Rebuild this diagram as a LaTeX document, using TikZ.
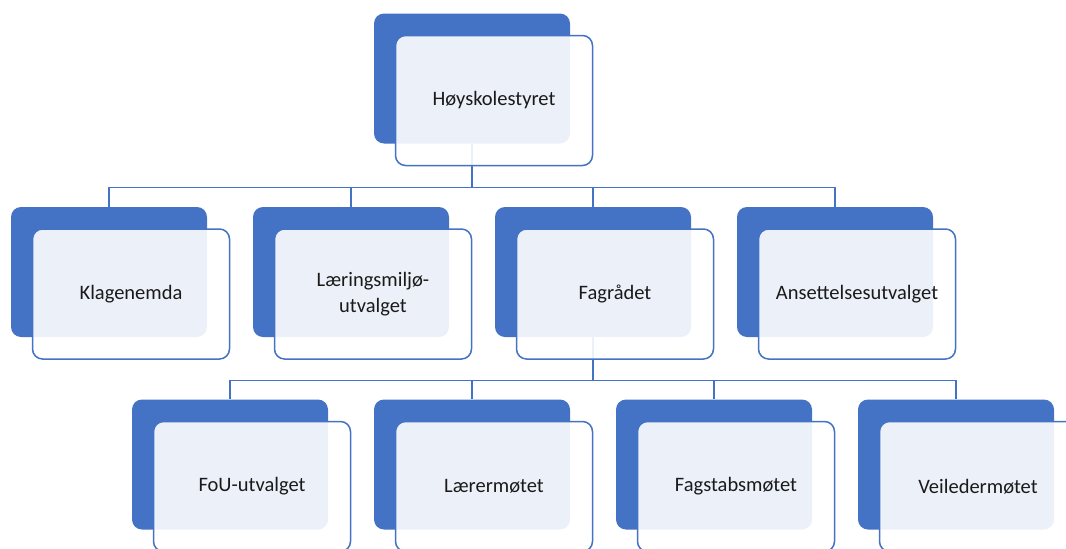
\documentclass[tikz,border=0pt]{standalone}
\usepackage{fontspec}
\setmainfont{Carlito}
\definecolor{accent}{HTML}{4472C4}
\definecolor{txt}{HTML}{1A1A1A}
\tikzset{
  backbox/.style={rectangle, rounded corners=10pt, fill=accent, draw=none,
    minimum width=196pt, minimum height=130pt, inner sep=0pt},
  frontbox/.style={rectangle, rounded corners=10pt, fill=white, fill opacity=0.9,
    text opacity=1, draw=accent, line width=1.5pt,
    minimum width=197pt, minimum height=130pt, inner sep=0pt,
    text=txt, align=center, font=\fontsize{20.5}{26}\selectfont},
  conn/.style={draw=accent, line width=1.3pt}
}
\begin{document}
\begin{tikzpicture}[x=1pt,y=-1pt]
\useasboundingbox (0,0) rectangle (1066,549);
% back boxes
\node[backbox] (b0) at (472,78.5) {};
\node[backbox] (b1) at (109,272) {};
\node[backbox] (b2) at (351,272) {};
\node[backbox] (b3) at (593,272) {};
\node[backbox] (b4) at (835,272) {};
\node[backbox] (b5) at (230,464.5) {};
\node[backbox] (b6) at (472,464.5) {};
\node[backbox] (b7) at (714,464.5) {};
\node[backbox] (b8) at (956,464.5) {};
% connectors
\draw[conn] (b0.south) -- ++(0,44) -| (b1.north);
\draw[conn] (b0.south) -- ++(0,44) -| (b2.north);
\draw[conn] (b0.south) -- ++(0,44) -| (b3.north);
\draw[conn] (b0.south) -- ++(0,44) -| (b4.north);
\draw[conn] (b3.south) -- ++(0,43) -| (b5.north);
\draw[conn] (b3.south) -- ++(0,43) -| (b6.north);
\draw[conn] (b3.south) -- ++(0,43) -| (b7.north);
\draw[conn] (b3.south) -- ++(0,43) -| (b8.north);
% front boxes
\node[frontbox] (f0) at ([shift={(22,22)}]b0.center) {Høyskolestyret};
\node[frontbox] (f1) at ([shift={(22,22)}]b1.center) {Klagenemda};
\node[frontbox] (f2) at ([shift={(22,22)}]b2.center) {Læringsmiljø-\\utvalget};
\node[frontbox] (f3) at ([shift={(22,22)}]b3.center) {Fagrådet};
\node[frontbox] (f4) at ([shift={(22,22)}]b4.center) {Ansettelsesutvalget};
\node[frontbox] (f5) at ([shift={(22,22)}]b5.center) {FoU-utvalget};
\node[frontbox] (f6) at ([shift={(22,22)}]b6.center) {Lærermøtet};
\node[frontbox] (f7) at ([shift={(22,22)}]b7.center) {Fagstabsmøtet};
\node[frontbox] (f8) at ([shift={(22,22)}]b8.center) {Veiledermøtet};
\end{tikzpicture}
\end{document}
